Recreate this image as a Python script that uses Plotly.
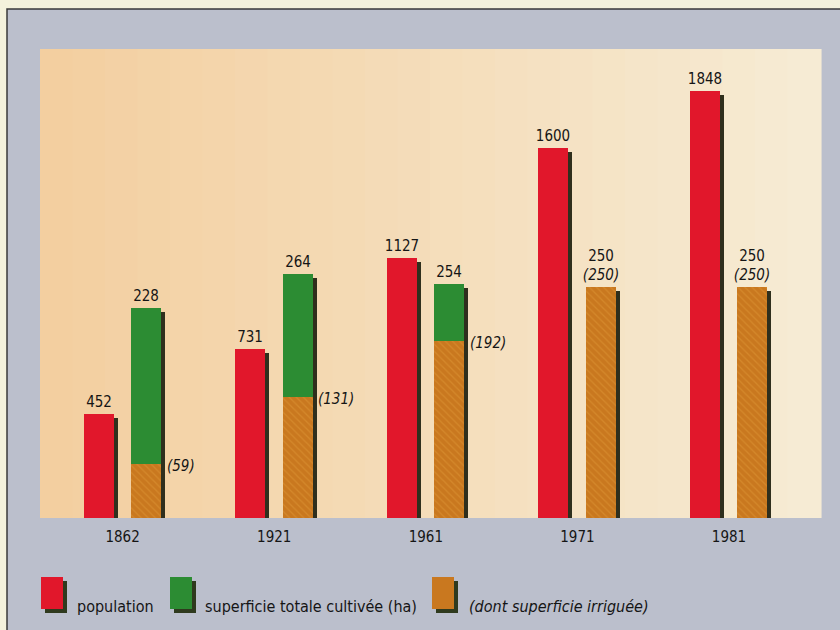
import plotly.graph_objects as go

# ---------------- data ----------------
years = ["1862", "1921", "1961", "1971", "1981"]
population = [452, 731, 1127, 1600, 1848]
surface_totale = [228, 264, 254, 250, 250]
surface_irriguee = [59, 131, 192, 250, 250]
legend_labels = ["population", "superficie totale cultivée (ha)", "(dont superficie irriguée)"]

# ---------------- style ----------------
W, H = 840, 630
ML, MR, MT, MB = 40, 20, 49, 112
PW, PH = W - ML - MR, H - MT - MB
FONT = "Liberation Sans Narrow, DejaVu Sans Condensed, Arial Narrow, sans-serif"
TXT = "#151515"
RED = "#e1172b"
GREEN = "#2c8c33"
ORANGE = "#c9781f"
SHADOW = "#2f2f1d"
GREY = "#bbbfcc"
PAPER = "#f4f2dc"

BAR_W = 0.198
RED_OFF = -0.257
GRN_OFF = 0.055
SH_DX = 0.026          # shadow shift in category units (~4px)
POP_MAX, SURF_MAX = 2030, 508
SH_POP = 4 * POP_MAX / PH
SH_SURF = 4 * SURF_MAX / PH


def px_x(p):
    return (p - ML) / PW


def px_y(p):
    return (H - MB - p) / PH


fig = go.Figure()

# shadows
fig.add_trace(go.Bar(x=years, y=population, base=-SH_POP, offset=RED_OFF + SH_DX, width=BAR_W,
                     marker=dict(color=SHADOW, line_width=0), yaxis="y", hoverinfo="skip",
                     showlegend=False))
fig.add_trace(go.Bar(x=years, y=surface_totale, base=-SH_SURF, offset=GRN_OFF + SH_DX, width=BAR_W,
                     marker=dict(color=SHADOW, line_width=0), yaxis="y2", hoverinfo="skip",
                     showlegend=False))

# population
fig.add_trace(go.Bar(x=years, y=population, offset=RED_OFF, width=BAR_W, yaxis="y",
                     marker=dict(color=RED, line_width=0), name=legend_labels[0],
                     text=[str(v) for v in population], textposition="outside",
                     constraintext="none", cliponaxis=False,
                     textfont=dict(family=FONT, size=15, color=TXT), showlegend=False))

# total cultivated
green_text = [
    f"{t}<br><i>({i})</i>" if i == t else str(t)
    for t, i in zip(surface_totale, surface_irriguee)
]
fig.add_trace(go.Bar(x=years, y=surface_totale, offset=GRN_OFF, width=BAR_W, yaxis="y2",
                     marker=dict(color=GREEN, line_width=0), name=legend_labels[1],
                     text=green_text, textposition="outside",
                     constraintext="none", cliponaxis=False,
                     textfont=dict(family=FONT, size=15, color=TXT), showlegend=False))

# irrigated
fig.add_trace(go.Bar(x=years, y=surface_irriguee, offset=GRN_OFF, width=BAR_W, yaxis="y2",
                     marker=dict(color=ORANGE, line_width=0,
                                 pattern=dict(shape="\\", fgcolor="#dc9233", size=5,
                                              solidity=0.25, fgopacity=0.6)),
                     name=legend_labels[2], showlegend=False))

# irrigated labels to the right of the bars (category axis -> use category index)
for idx, (t, i) in enumerate(zip(surface_totale, surface_irriguee)):
    if i < t:
        fig.add_annotation(x=idx, y=i, xref="x", yref="y2", text=f"<i>({i})</i>",
                           showarrow=False, xanchor="left", yanchor="middle",
                           xshift=42, yshift=-2,
                           font=dict(family=FONT, size=15, color=TXT))

# ---------------- background shapes ----------------
shapes = [dict(type="rect", xref="paper", yref="paper",
               x0=px_x(7), x1=px_x(850), y0=px_y(640), y1=px_y(9),
               fillcolor=GREY, line=dict(color="#3a3a3a", width=1.5), layer="below")]
c0 = (0xf3, 0xcf, 0xa0)
c1 = (0xf6, 0xeb, 0xd4)
N = 24
for k in range(N):
    f = k / (N - 1)
    col = "rgb(%d,%d,%d)" % tuple(round(a + (b - a) * f) for a, b in zip(c0, c1))
    shapes.append(dict(type="rect", xref="paper", yref="paper",
                       x0=k / N, x1=(k + 1) / N + 0.002, y0=0, y1=1,
                       fillcolor=col, line_width=0, layer="below"))

# legend swatches
legend_colors = [RED, GREEN, ORANGE]
legend_sw_x = [41, 170, 432]
legend_txt_x = [75, 203, 467]
for col, sx in zip(legend_colors, legend_sw_x):
    shapes.append(dict(type="rect", xref="paper", yref="paper",
                       x0=px_x(sx + 4), x1=px_x(sx + 26), y0=px_y(613), y1=px_y(581),
                       fillcolor="#2f3a1e", line_width=0, layer="below"))
    shapes.append(dict(type="rect", xref="paper", yref="paper",
                       x0=px_x(sx), x1=px_x(sx + 22), y0=px_y(609), y1=px_y(577),
                       fillcolor=col, line_width=0, layer="below"))
for lab, tx in zip(legend_labels, legend_txt_x):
    txt = f"<i>{lab}</i>" if lab.startswith("(") else lab
    fig.add_annotation(x=px_x(tx), y=px_y(606), xref="paper", yref="paper", text=txt,
                       showarrow=False, xanchor="left", yanchor="middle",
                       font=dict(family=FONT, size=16, color=TXT))

fig.update_layout(
    width=W, height=H,
    margin=dict(l=ML, r=MR, t=MT, b=MB),
    paper_bgcolor=PAPER,
    plot_bgcolor="rgba(0,0,0,0)",
    barmode="overlay",
    bargap=0,
    shapes=shapes,
    showlegend=False,
    xaxis=dict(type="category", range=[-0.545, 4.6], showgrid=False, showline=False,
               zeroline=False, ticks="", ticklabelstandoff=8,
               tickfont=dict(family=FONT, size=15, color=TXT), fixedrange=True),
    yaxis=dict(range=[0, POP_MAX], visible=False, fixedrange=True),
    yaxis2=dict(range=[0, SURF_MAX], visible=False, overlaying="y", fixedrange=True),
)

fig.write_html(
    "out.html",
    config={"displayModeBar": False},
    post_script="document.body.style.margin='0';document.body.style.background='#f4f2dc';",
)
